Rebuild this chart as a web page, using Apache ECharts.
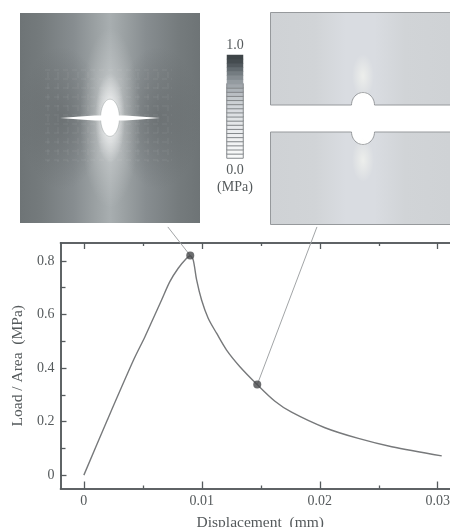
<!DOCTYPE html>
<html><head><meta charset="utf-8">
<style>html,body{margin:0;padding:0;background:#fff}#c{width:450px;height:527px}</style>
<script src="https://cdn.jsdelivr.net/npm/echarts@6/dist/echarts.min.js"></script>
</head><body><div id="c"></div>
<script>
const riseDisplacement = [0,0.00198,0.00424,0.00517,0.00588,0.00659,0.00729,0.008,0.00871,0.00902];
const riseLoad = [0,0.205,0.4325,0.516,0.585,0.654,0.7226,0.7727,0.81,0.82];
const fallDisplacement = [0.00902,0.00927,0.00956,0.00998,0.01054,0.01125,0.0121,0.01323,0.0147,0.0162,0.01761,0.02044,0.02327,0.0261,0.03034];
const fallLoad = [0.82,0.804,0.729,0.654,0.586,0.53,0.467,0.405,0.338,0.276,0.235,0.177,0.137,0.106,0.072];
const markedPoints = [[0.00902,0.82],[0.0147,0.338]];
const leaderEnds = [[0.00712,0.927],[0.01976,0.927]];
const xMajor = [0,0.01,0.02,0.03];
const xMinor = [0.005,0.015,0.025];
const yMajor = [0,0.2,0.4,0.6,0.8];
const yMinor = [0.1,0.3,0.5,0.7];
const scaleLevels = ['#f8f9f9','#f6f7f7','#f4f5f6','#f2f3f4','#f0f1f2','#eeeff1','#ebedef','#e8eaec','#e5e7e9','#e1e4e6','#dde0e3','#d8dbdf','#d2d6da','#ccd0d4','#c4c9cd','#b9bec3','#adb3b8','#a1a7ac','#949ba0','#858c91','#747c81','#636b70','#52595e','#454c50','#3e4548'];
const scaleText = ['1.0','0.0','(MPa)'];

const serif = '"Liberation Serif", serif';
const ink = '#555a5c';
const hGrad = (x, x2, stops) => ({type:'linear',x,y:0,x2,y2:0,global:true,
  colorStops:stops.map(s=>({offset:s[0],color:s[1]}))});
const glow = (cx,cy,r,sy,a) => ({type:'circle',silent:true,x:cx,y:cy,scaleY:sy,shape:{cx:0,cy:0,r},
  style:{fill:{type:'radial',x:0.5,y:0.5,r:0.5,colorStops:[
    {offset:0,color:a},{offset:1,color:a.replace(/[\d.]+\)$/,'0)')}]}}});
const arc = (cx,cy,rx,ry,a0,a1,n) => Array.from({length:n+1},(_,i)=>{
  const a=(a0+(a1-a0)*i/n)*Math.PI/180; return [cx+rx*Math.cos(a),cy+ry*Math.sin(a)];});

const art = [];
// left panel
art.push({type:'rect',silent:true,shape:{x:20,y:13,width:180,height:210},style:{fill:hGrad(20,200,[
  [0,'#6e7476'],[0.12,'#757b7d'],[0.3,'#878d90'],[0.42,'#9ba1a3'],[0.5,'#a8aeb0'],[0.58,'#9ba1a3'],[0.7,'#878d90'],[0.88,'#757b7d'],[1,'#6e7476']])}});
art.push(glow(62,118,42,1.7,'rgba(98,103,105,0.65)'));
art.push(glow(158,118,42,1.7,'rgba(98,103,105,0.65)'));
art.push(glow(110,118,30,3.0,'rgba(255,255,255,0.42)'));
art.push(glow(110,118,15,3.0,'rgba(255,255,255,0.9)'));
for (let y=70;y<=165;y+=9) art.push({type:'line',silent:true,shape:{x1:45,y1:y,x2:172,y2:y},
  style:{stroke:'rgba(255,255,255,0.08)',lineWidth:1,lineDash:[5,4]}});
for (let x=48;x<=170;x+=10) if (x<92||x>128) art.push({type:'line',silent:true,shape:{x1:x,y1:72,x2:x,y2:162},
  style:{stroke:'rgba(255,255,255,0.08)',lineWidth:1,lineDash:[6,5]}});
art.push({type:'polygon',silent:true,shape:{points:arc(110,117.8,9.4,18.6,0,360,48)},style:{fill:'#fff',stroke:'rgba(130,136,138,0.6)',lineWidth:0.6}});
art.push({type:'polygon',silent:true,shape:{points:[[60,118],[80,116.6],[95,115.6],[125,115.6],[140,116.6],[160,118],[140,119.4],[125,120.4],[95,120.4],[80,119.4]]},style:{fill:'#fff'}});
// right panels
const rightFill = hGrad(270,450,[[0,'#cfd2d5'],[0.25,'#d1d4d7'],[0.42,'#d9dce1'],[0.58,'#d9dce1'],[0.75,'#d1d4d7'],[1,'#cfd2d5']]);
art.push({type:'polygon',silent:true,shape:{points:[[270.5,12.5],[451,12.5],[451,105]].concat(arc(363,105,11.5,12.5,0,-180,24)).concat([[270.5,105]])},style:{fill:rightFill,stroke:'#96999c',lineWidth:1}});
art.push({type:'polygon',silent:true,shape:{points:[[270.5,132]].concat(arc(363,132,11.5,12.5,180,0,24)).concat([[451,132],[451,224.5],[270.5,224.5]])},style:{fill:rightFill,stroke:'#96999c',lineWidth:1}});
art.push(glow(363,76,11,2.0,'rgba(245,246,240,0.7)'));
art.push(glow(363,160,11,2.0,'rgba(245,246,240,0.7)'));
// scale labels
art.push({type:'text',silent:true,style:{x:235,y:45,text:scaleText[0],font:'14px '+serif,fill:ink,align:'center',verticalAlign:'middle'}});
art.push({type:'text',silent:true,style:{x:235,y:170,text:scaleText[1],font:'14px '+serif,fill:ink,align:'center',verticalAlign:'middle'}});
art.push({type:'text',silent:true,style:{x:235,y:187,text:scaleText[2],font:'14px '+serif,fill:ink,align:'center',verticalAlign:'middle'}});

const axLine = {show:true,onZero:false,lineStyle:{color:'#555a5c',width:1.5}};
const xBase = {gridIndex:0,type:'value',min:-0.00198,max:0.03104,splitLine:{show:false},axisLine:axLine};
const yBase = {gridIndex:0,type:'value',min:-0.05,max:0.867,splitLine:{show:false},axisLine:axLine};
const tick = (vals,len) => ({show:true,inside:true,length:len,customValues:vals,lineStyle:{color:'#555a5c',width:1.3}});
const curveStyle = {color:'#77797b',width:1.4};

const option = {
  animation:false,
  backgroundColor:'#fff',
  graphic:{elements:art},
  grid:[
    {left:60.5,right:0,top:243,bottom:38.5,outerBoundsMode:'none'},
    {left:227,top:55,width:16,height:103,outerBoundsMode:'none'}
  ],
  xAxis:[
    Object.assign({},xBase,{position:'bottom',
      name:'Displacement  (mm)',nameLocation:'middle',nameGap:26,
      nameTextStyle:{fontFamily:serif,fontSize:15.5,color:ink,padding:[0,0,0,10]},
      axisTick:tick(xMajor,7),
      axisLabel:{show:true,customValues:xMajor,margin:6,fontFamily:serif,fontSize:14,color:ink,showMinLabel:true,showMaxLabel:true,
        formatter:v=>String(+v.toFixed(2))}}),
    Object.assign({},xBase,{position:'bottom',axisLabel:{show:false},axisTick:tick(xMinor,3)}),
    Object.assign({},xBase,{position:'top',axisLabel:{show:false},axisTick:tick(xMajor,6)}),
    Object.assign({},xBase,{position:'top',axisLabel:{show:false},axisTick:tick(xMinor,3)}),
    {gridIndex:1,type:'category',data:['s'],show:false}
  ],
  yAxis:[
    Object.assign({},yBase,{position:'left',
      name:'Load / Area  (MPa)',nameLocation:'middle',nameGap:32,nameRotate:90,
      nameTextStyle:{fontFamily:serif,fontSize:15.5,color:ink},
      axisTick:tick(yMajor,6),
      axisLabel:{show:true,customValues:yMajor,margin:6,fontFamily:serif,fontSize:14,color:ink,
        formatter:v=>v===0?'0':v.toFixed(1)}}),
    Object.assign({},yBase,{position:'left',axisLabel:{show:false},axisTick:tick(yMinor,5)}),
    {gridIndex:1,type:'category',data:scaleLevels.map((c,i)=>i),show:false}
  ],
  series:[
    {type:'line',name:'leader a',xAxisIndex:0,yAxisIndex:0,clip:false,silent:true,symbol:'none',z:1,
      lineStyle:{color:'#a2a5a7',width:1},data:[markedPoints[0],leaderEnds[0]]},
    {type:'line',name:'leader b',xAxisIndex:0,yAxisIndex:0,clip:false,silent:true,symbol:'none',z:1,
      lineStyle:{color:'#a2a5a7',width:1},data:[markedPoints[1],leaderEnds[1]]},
    {type:'line',name:'rise',xAxisIndex:0,yAxisIndex:0,symbol:'none',z:2,smooth:0.3,
      lineStyle:curveStyle,data:riseDisplacement.map((d,i)=>[d,riseLoad[i]])},
    {type:'line',name:'fall',xAxisIndex:0,yAxisIndex:0,symbol:'none',z:2,smooth:0.3,
      lineStyle:curveStyle,data:fallDisplacement.map((d,i)=>[d,fallLoad[i]])},
    {type:'scatter',name:'states',xAxisIndex:0,yAxisIndex:0,symbolSize:8,z:3,
      itemStyle:{color:'#47494b'},data:markedPoints},
    {type:'heatmap',name:'scale',xAxisIndex:4,yAxisIndex:2,silent:true,
      data:scaleLevels.map((c,i)=>({value:[0,i,i],itemStyle:{color:c,borderColor:i<18?'#85898c':c,borderWidth:i<18?1:0}}))}
  ]
};
echarts.init(document.getElementById('c'),null,{renderer:'canvas'}).setOption(option);
</script></body></html>
